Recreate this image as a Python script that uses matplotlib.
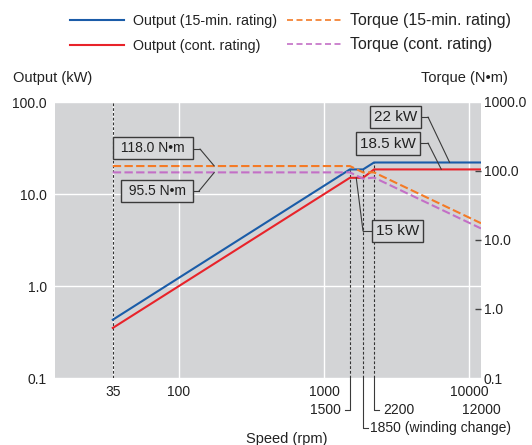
import numpy as np
import matplotlib.pyplot as plt
from matplotlib.lines import Line2D

plt.rcParams['font.family'] = ['Liberation Sans', 'DejaVu Sans']
plt.rcParams['font.size'] = 10

# speed in rpm
speed = [35, 1500, 1850, 2200, 12000]
# output in kW
out_15min = [0.43, 18.5, 18.5, 22.0, 22.0]
out_cont = [0.35, 15.0, 15.0, 18.5, 18.5]
# torque in N·m
torque_15min = [118.0, 118.0, 95.5, 95.5, 17.5]
torque_cont = [95.5, 95.5, 77.4, 80.3, 14.7]

x_ticks = [35, 100, 1000, 10000]
x_tick_labels = ['35', '100', '1000', '10000']
y_left = [0.1, 1, 10, 100]
y_left_labels = ['0.1', '1.0', '10.0', '100.0']
y_right = [0.1, 1, 10, 100, 1000]
y_right_labels = ['0.1', '1.0', '10.0', '100.0', '1000.0']
marks = [1500, 1850, 2200]

blau = '#1a5ca8'
rot = '#e8232a'
orange = '#f47a26'
lila = '#c36fc6'
dunkel = '#3a3a3a'
schrift = '#222222'

fig = plt.figure(figsize=(5.32, 4.45), dpi=100)
ax = fig.add_axes([55 / 532, 1 - 378 / 445, 426 / 532, 276 / 445])
ax.set_facecolor('#d3d4d6')
ax.set_xscale('log')
ax.set_yscale('log')
ax.set_xlim(14, 12000)
ax.set_ylim(0.1, 100)

ax2 = ax.twinx()
ax2.set_yscale('log')
ax2.set_ylim(0.1, 1000)

for a in (ax, ax2):
    for sp in a.spines.values():
        sp.set_visible(False)

ax.set_xticks(x_ticks)
ax.set_xticklabels(x_tick_labels)
ax.xaxis.set_minor_locator(plt.NullLocator())
ax.set_yticks(y_left)
ax.set_yticklabels(y_left_labels)
ax.yaxis.set_minor_locator(plt.NullLocator())
ax.tick_params(axis='both', length=0, labelsize=10, colors=schrift)
ax.tick_params(axis='y', pad=6)
ax.tick_params(axis='x', pad=5)
ax.grid(True, color='white', lw=1)
ax.set_axisbelow(True)

ax2.set_yticks(y_right)
ax2.set_yticklabels(y_right_labels)
ax2.yaxis.set_minor_locator(plt.NullLocator())
ax2.tick_params(axis='y', direction='in', length=4, width=1, color='#444444',
                pad=2, labelsize=10, labelcolor=schrift)
ticks = ax2.yaxis.get_major_ticks()
for t in (ticks[0], ticks[-1]):
    t.tick2line.set_visible(False)

# speed marks
ax.vlines(speed[0], 0.1, 100, color='#333333', lw=0.8, linestyles=(0, (2.5, 1.8)), zorder=2)
for m in marks:
    ax.vlines(m, 0.1, out_15min[speed.index(m)], color='#333333', lw=0.8,
              linestyles=(0, (2.5, 1.8)), zorder=2)

ax.plot(speed, out_15min, color=blau, lw=1.5, zorder=3)
ax.plot(speed, out_cont, color=rot, lw=1.5, zorder=3)
ax2.plot(speed, torque_15min, color=orange, lw=1.5, ls=(0, (4, 1.6)), zorder=3)
ax2.plot(speed, torque_cont, color=lila, lw=1.5, ls=(0, (4, 1.6)), zorder=3)


def fr(x, y):
    return ((x - 55) / 426, (378 - y) / 276)


def box(achse, text, mitte, knick, ziel, size):
    achse.annotate('', xy=ziel, xycoords='data', xytext=fr(*knick),
                   textcoords='axes fraction',
                   arrowprops=dict(arrowstyle='-', color=dunkel, lw=0.8,
                                   shrinkA=0, shrinkB=0), zorder=5)
    achse.plot([fr(*mitte)[0], fr(*knick)[0]], [fr(*knick)[1]] * 2,
               transform=achse.transAxes, color=dunkel, lw=0.8, zorder=5)
    achse.text(*fr(*mitte), text, transform=achse.transAxes, ha='center',
               va='center', fontsize=size, color=schrift, zorder=6,
               bbox=dict(boxstyle='square,pad=0.28', fc='#d8d9db', ec=dunkel, lw=1))


box(ax2, ' 118.0 N•m ', (153, 148), (200, 149), (175, torque_15min[0]), 10)
box(ax2, ' 95.5 N•m ', (157, 191), (199, 191), (175, torque_cont[0]), 10)
box(ax, '22 kW', (395.5, 117), (428, 117), (7300, out_15min[-1]), 11)
box(ax, '18.5 kW', (388, 143.5), (428, 143), (6400, out_cont[-1]), 11)
box(ax, '15 kW', (397.5, 231), (363, 231), (1660, out_cont[1]), 11)


# lines and labels below the axis
def versatz(n, dx):
    xd = ax.transData.transform((n, 1))[0] + dx
    return ax.transData.inverted().transform((xd, 1))[0]


xt = ax.get_xaxis_transform()
y1 = (378 - 410) / 276
y2 = (378 - 428) / 276
ax.plot([1500, 1500, versatz(1500, -5)], [0, y1, y1], transform=xt, color=dunkel,
        lw=0.8, clip_on=False)
ax.text(versatz(1500, -9), y1, '1500', transform=xt, ha='right', va='center', color=schrift)
ax.plot([2200, 2200, versatz(2200, 5)], [0, y1, y1], transform=xt, color=dunkel,
        lw=0.8, clip_on=False)
ax.text(versatz(2200, 9), y1, '2200', transform=xt, ha='left', va='center', color=schrift)
ax.plot([1850, 1850, versatz(1850, 5)], [0, y2, y2], transform=xt, color=dunkel,
        lw=0.8, clip_on=False)
ax.text(versatz(1850, 7), y2, '1850 (winding change)', transform=xt, ha='left',
        va='center', color=schrift)
ax.text(speed[-1], y1, '12000', transform=xt, ha='center', va='center', color=schrift)

fig.text(287 / 532, 1 - 432 / 445, 'Speed (rpm)', ha='center', va='top', color=schrift,
         fontsize=10.5)
fig.text(13 / 532, 1 - 78 / 445, 'Output (kW)', ha='left', va='center', color=schrift,
         fontsize=10.5)
fig.text(508 / 532, 1 - 78 / 445, 'Torque (N•m)', ha='right', va='center', color=schrift,
         fontsize=10.5)

# legend in two separate columns
griffe_out = [Line2D([], [], color=blau, lw=1.5), Line2D([], [], color=rot, lw=1.5)]
namen_out = ['Output (15-min. rating)', 'Output (cont. rating)']
griffe_tq = [Line2D([], [], color=orange, lw=1.2, ls=(0, (3.6, 2.1))),
             Line2D([], [], color=lila, lw=1.2, ls=(0, (3.6, 2.1)))]
namen_tq = ['Torque (15-min. rating)', 'Torque (cont. rating)']

fig.legend(griffe_out, namen_out, loc='upper left',
           bbox_to_anchor=(70 / 532, 1 - 14.5 / 445), frameon=False, borderpad=0,
           borderaxespad=0, handlelength=3.75, handletextpad=0.62,
           labelspacing=0.72, fontsize=10.3, labelcolor=schrift)
fig.legend(griffe_tq, namen_tq, loc='upper left',
           bbox_to_anchor=(287 / 532, 1 - 13.5 / 445), frameon=False, borderpad=0,
           borderaxespad=0, handlelength=3.5, handletextpad=0.5,
           labelspacing=0.54, fontsize=11.4, labelcolor=schrift)

fig.savefig('out.png', dpi=100, facecolor='white')
